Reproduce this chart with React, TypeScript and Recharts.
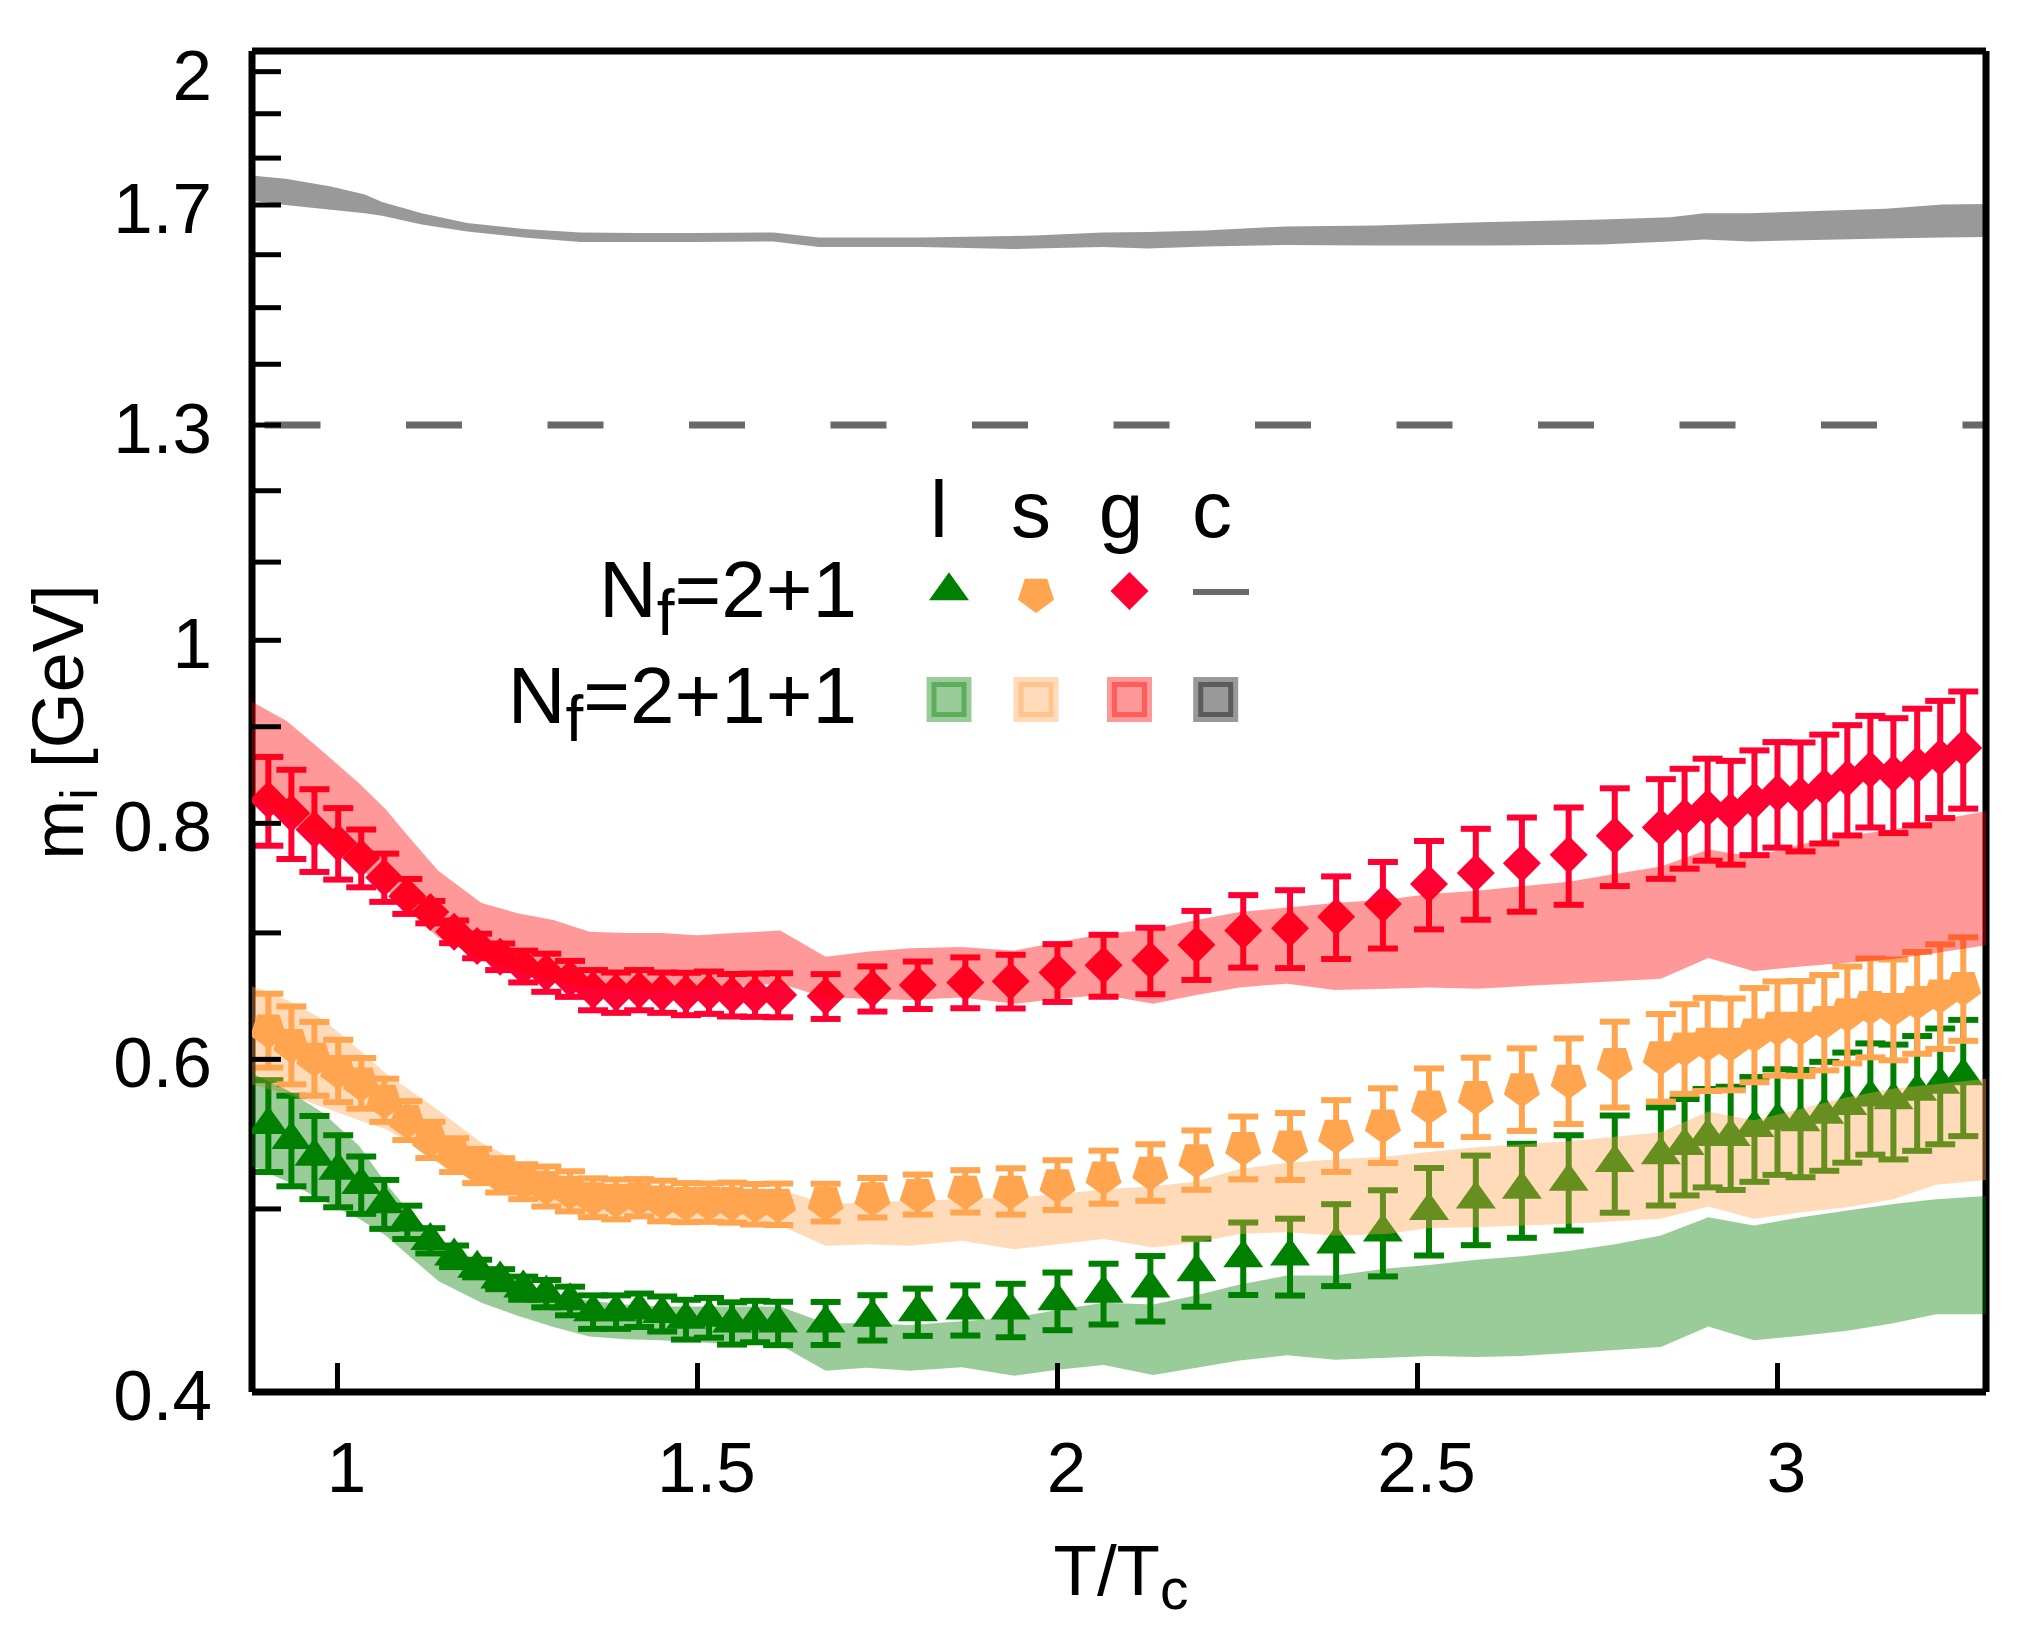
import React from 'react';
import { ComposedChart, Scatter, Area, XAxis, YAxis, ErrorBar, ReferenceLine } from 'recharts';

const W = 2027;
const H = 1635;
const FONT = "'Liberation Sans', Arial, Helvetica, sans-serif";

const GREEN = '#008000';
const ORANGE = '#ffa54f';
const RED = '#ff0033';
const RED_BAND = '#ff0000';
const GRAY_LINE = '#696969';

// ---- N_f = 2+1 lattice points ----
const T_POINTS = [
  0.904, 0.936, 0.968, 1.001, 1.033, 1.065, 1.097, 1.129, 1.162, 1.194, 1.226, 1.258,
  1.290, 1.323, 1.355, 1.387, 1.419, 1.451, 1.484, 1.516, 1.548, 1.580, 1.612,
  1.678, 1.743, 1.806, 1.872, 1.935, 2.000, 2.064, 2.129, 2.193, 2.258, 2.323, 2.387,
  2.452, 2.516, 2.581, 2.645, 2.710, 2.774,
  2.838, 2.871, 2.903, 2.935, 2.968, 3.000, 3.032, 3.065, 3.097, 3.129, 3.161, 3.194, 3.226, 3.258,
];

const L_VALUES = [
  0.554, 0.544, 0.533, 0.524, 0.515, 0.503, 0.492, 0.481, 0.472, 0.465, 0.459, 0.454,
  0.451, 0.447, 0.441, 0.441, 0.442, 0.440, 0.437, 0.438, 0.435, 0.436, 0.435,
  0.435, 0.438, 0.441, 0.442, 0.442, 0.447, 0.451, 0.454, 0.463, 0.471, 0.472, 0.479,
  0.486, 0.499, 0.506, 0.512, 0.517, 0.529,
  0.534, 0.540, 0.546, 0.546, 0.552, 0.557, 0.556, 0.561, 0.567, 0.573, 0.571, 0.577, 0.582, 0.588,
];
const L_ERRORS = [
  0.031, 0.030, 0.027, 0.023, 0.018, 0.015, 0.010, 0.0074, 0.0062, 0.005, 0.0056, 0.0064,
  0.0075, 0.0078, 0.009, 0.009, 0.009, 0.0094, 0.0106, 0.0106, 0.0112, 0.011, 0.0115,
  0.0114, 0.0121, 0.0127, 0.0135, 0.0144, 0.0157, 0.0167, 0.0181, 0.0192, 0.0208, 0.0221, 0.0239,
  0.0255, 0.0266, 0.0276, 0.0293, 0.030, 0.0313,
  0.0319, 0.0317, 0.0327, 0.0343, 0.0352, 0.0358, 0.0363, 0.0372, 0.038, 0.0388, 0.0399, 0.0403, 0.041, 0.0416,
];

const S_VALUES = [
  0.622, 0.611, 0.601, 0.592, 0.583, 0.571, 0.557, 0.544, 0.534, 0.527, 0.521, 0.517,
  0.514, 0.511, 0.507, 0.506, 0.507, 0.505, 0.504, 0.504, 0.504, 0.503, 0.503,
  0.504, 0.507, 0.509, 0.511, 0.511, 0.515, 0.520, 0.523, 0.531, 0.539, 0.540, 0.547,
  0.554, 0.567, 0.5735, 0.579, 0.585, 0.597,
  0.602, 0.6085, 0.612, 0.612, 0.619, 0.624, 0.624, 0.6285, 0.6345, 0.640, 0.6385, 0.644, 0.649, 0.655,
];
const S_ERRORS = [
  0.028, 0.029, 0.027, 0.0225, 0.018, 0.015, 0.0132, 0.012, 0.011, 0.011, 0.0109, 0.011,
  0.0125, 0.0125, 0.012, 0.0123, 0.0115, 0.0125, 0.012, 0.0118, 0.0123, 0.0124, 0.0127,
  0.0116, 0.0122, 0.0124, 0.0132, 0.0144, 0.0156, 0.0168, 0.018, 0.0192, 0.0206, 0.022, 0.0239,
  0.0252, 0.0264, 0.0277, 0.0291, 0.0305, 0.0312,
  0.0321, 0.0332, 0.0347, 0.0342, 0.0355, 0.0358, 0.0361, 0.0365, 0.0374, 0.0385, 0.0392, 0.0399, 0.0413, 0.0413,
];

const G_VALUES = [
  0.823, 0.810, 0.794, 0.781, 0.767, 0.749, 0.732, 0.718, 0.701, 0.689, 0.680, 0.672,
  0.667, 0.662, 0.653, 0.651, 0.653, 0.651, 0.650, 0.651, 0.649, 0.649, 0.649,
  0.648, 0.654, 0.657, 0.659, 0.660, 0.667, 0.673, 0.677, 0.690, 0.702, 0.704, 0.714,
  0.725, 0.743, 0.753, 0.762, 0.770, 0.788,
  0.796, 0.806, 0.815, 0.812, 0.822, 0.830, 0.828, 0.836, 0.845, 0.854, 0.850, 0.859, 0.867, 0.877,
];
const G_ERRORS = [
  0.0445, 0.044, 0.040, 0.034, 0.027, 0.022, 0.0156, 0.0098, 0.0097, 0.0103, 0.011, 0.013,
  0.0155, 0.0145, 0.016, 0.016, 0.016, 0.016, 0.0168, 0.0168, 0.0168, 0.0171, 0.0174,
  0.0177, 0.018, 0.019, 0.0204, 0.0216, 0.0235, 0.0254, 0.0274, 0.029, 0.031, 0.0334, 0.0359,
  0.0382, 0.040, 0.0417, 0.0437, 0.0456, 0.0469,
  0.0483, 0.049, 0.0506, 0.0513, 0.0524, 0.0533, 0.0549, 0.0554, 0.0567, 0.058, 0.0594, 0.061, 0.0618, 0.0625,
];

// ---- N_f = 2+1+1 bands ----
const BAND_T = [
  0.881, 0.93, 0.98, 1.03, 1.067, 1.10, 1.14, 1.20, 1.25, 1.30, 1.35, 1.40, 1.45, 1.50, 1.55,
  1.615, 1.678, 1.735, 1.795, 1.867, 1.94, 2.0, 2.064, 2.133, 2.193, 2.253, 2.319, 2.385,
  2.458, 2.516, 2.582, 2.645, 2.71, 2.774, 2.838, 2.904, 2.967, 3.033, 3.097, 3.161, 3.22, 3.29,
];
const L_BAND_HI = [
  0.590, 0.578, 0.562, 0.540, 0.516, 0.498, 0.482, 0.466, 0.457, 0.451, 0.447, 0.445, 0.444, 0.444, 0.444,
  0.444, 0.435, 0.435, 0.434, 0.436, 0.438, 0.442, 0.446, 0.445, 0.450, 0.456, 0.461, 0.461,
  0.465, 0.467, 0.470, 0.472, 0.475, 0.479, 0.484, 0.495, 0.490, 0.495, 0.499, 0.503, 0.506, 0.508,
];
const L_BAND_LO = [
  0.527, 0.517, 0.505, 0.494, 0.484, 0.472, 0.458, 0.446, 0.439, 0.433, 0.428, 0.4266, 0.426, 0.425, 0.424,
  0.4236, 0.4105, 0.412, 0.4105, 0.4123, 0.408, 0.411, 0.4134, 0.4084, 0.412, 0.4156, 0.4183, 0.416,
  0.417, 0.418, 0.4174, 0.418, 0.4195, 0.421, 0.4225, 0.4332, 0.426, 0.4284, 0.431, 0.435, 0.4398, 0.4398,
];
const S_BAND_HI = [
  0.656, 0.645, 0.630, 0.607, 0.590, 0.578, 0.564, 0.542, 0.530, 0.522, 0.517, 0.514, 0.513, 0.512, 0.512,
  0.512, 0.503, 0.504, 0.505, 0.506, 0.507, 0.509, 0.512, 0.514, 0.517, 0.525, 0.529, 0.531,
  0.533, 0.536, 0.539, 0.541, 0.543, 0.546, 0.549, 0.563, 0.557, 0.565, 0.573, 0.579, 0.582, 0.586,
];
const S_BAND_LO = [
  0.582, 0.575, 0.566, 0.557, 0.551, 0.542, 0.529, 0.516, 0.508, 0.501, 0.494, 0.4937, 0.494, 0.492, 0.4917,
  0.490, 0.478, 0.479, 0.478, 0.481, 0.476, 0.479, 0.482, 0.477, 0.480, 0.485, 0.486, 0.484,
  0.485, 0.4885, 0.489, 0.490, 0.491, 0.4925, 0.494, 0.5015, 0.494, 0.498, 0.501, 0.506, 0.515, 0.518,
];
const G_BAND_HI = [
  0.928, 0.906, 0.873, 0.840, 0.814, 0.786, 0.755, 0.726, 0.717, 0.711, 0.701, 0.700, 0.700, 0.698, 0.700,
  0.702, 0.680, 0.684, 0.687, 0.688, 0.685, 0.692, 0.699, 0.703, 0.711, 0.718, 0.722, 0.726,
  0.729, 0.734, 0.737, 0.741, 0.745, 0.752, 0.759, 0.775, 0.768, 0.780, 0.788, 0.794, 0.803, 0.812,
];
const G_BAND_LO = [
  0.825, 0.805, 0.782, 0.758, 0.738, 0.718, 0.696, 0.678, 0.668, 0.660, 0.655, 0.653, 0.653, 0.654, 0.656,
  0.658, 0.647, 0.646, 0.645, 0.647, 0.642, 0.646, 0.649, 0.642, 0.649, 0.655, 0.658, 0.653,
  0.654, 0.655, 0.654, 0.656, 0.658, 0.660, 0.662, 0.679, 0.668, 0.672, 0.675, 0.678, 0.683, 0.6895,
];

const C_T = [
  0.881, 0.928, 0.991, 1.038, 1.062, 1.117, 1.18, 1.259, 1.3375, 1.416, 1.495, 1.6056, 1.6686,
  1.810, 1.937, 1.968, 2.063, 2.126, 2.205, 2.315, 2.441, 2.599, 2.756, 2.851, 2.898, 2.961,
  3.15, 3.229, 3.29,
];
const C_BAND_HI = [
  1.762, 1.755, 1.739, 1.722, 1.706, 1.683, 1.663, 1.651, 1.644, 1.643, 1.643, 1.644, 1.634,
  1.634, 1.637, 1.638, 1.644, 1.645, 1.648, 1.656, 1.658, 1.665, 1.670, 1.675, 1.683, 1.683,
  1.692, 1.701, 1.702,
];
const C_BAND_LO = [
  1.709, 1.700, 1.690, 1.683, 1.678, 1.660, 1.646, 1.634, 1.625, 1.625, 1.625, 1.626, 1.615,
  1.615, 1.611, 1.612, 1.615, 1.612, 1.616, 1.619, 1.618, 1.618, 1.620, 1.626, 1.630, 1.626,
  1.632, 1.634, 1.635,
];

const CHARM_LINE = 1.3;

const X_DOMAIN = [0.8813, 3.2896];
const Y_DOMAIN = [0.4, 2.051];
const X_TICKS = [1, 1.5, 2, 2.5, 3];
const Y_TICKS = [0.4, 0.5, 0.6, 0.7, 0.8, 0.9, 1, 1.1, 1.2, 1.3, 1.4, 1.5, 1.6, 1.7, 1.8, 1.9, 2];
const Y_LABELED = [0.4, 0.6, 0.8, 1, 1.3, 1.7, 2];

const pts = (vals: number[], errs: number[]) =>
  T_POINTS.map((t, i) => ({ t, v: vals[i], e: errs[i] }));
const band = (ts: number[], lo: number[], hi: number[]) =>
  ts.map((t, i) => ({ t, lo: lo[i], hi: hi[i] }));

const lData = pts(L_VALUES, L_ERRORS);
const sData = pts(S_VALUES, S_ERRORS);
const gData = pts(G_VALUES, G_ERRORS);
const lBand = band(BAND_T, L_BAND_LO, L_BAND_HI);
const sBand = band(BAND_T, S_BAND_LO, S_BAND_HI);
const gBand = band(BAND_T, G_BAND_LO, G_BAND_HI);
const cBand = band(C_T, C_BAND_LO, C_BAND_HI);

const trianglePts = (cx: number, cy: number) =>
  `${cx},${cy - 18.7} ${cx + 20},${cy + 9.3} ${cx - 20},${cy + 9.3}`;
const diamondPts = (cx: number, cy: number) =>
  `${cx},${cy - 19} ${cx + 19},${cy} ${cx},${cy + 19} ${cx - 19},${cy}`;
const pentagonPts = (cx: number, cy: number) => {
  const r = 19;
  const angles = [90, 18, -54, -126, 162];
  return angles
    .map((a) => {
      const rad = (a * Math.PI) / 180;
      return `${cx + r * Math.cos(rad)},${cy + r * Math.sin(rad)}`;
    })
    .join(' ');
};

const TriangleShape = (p: any) =>
  p.cx == null ? <g /> : <polygon points={trianglePts(p.cx, p.cy)} fill={GREEN} />;
const PentagonShape = (p: any) =>
  p.cx == null ? <g /> : <polygon points={pentagonPts(p.cx, p.cy)} fill={ORANGE} />;
const DiamondShape = (p: any) =>
  p.cx == null ? <g /> : <polygon points={diamondPts(p.cx, p.cy)} fill={RED} />;

const YTick = (props: any) => {
  const { x, y, payload } = props;
  const v = payload.value;
  const show = Y_LABELED.some((l) => Math.abs(l - v) < 1e-9);
  return (
    <g>
      <line x1={x} x2={x + 29} y1={y} y2={y} stroke="#000" strokeWidth={5} />
      {show && (
        <text x={x - 40} y={y + 28} textAnchor="end" fontSize={71} fontFamily={FONT} fill="#000">
          {String(v)}
        </text>
      )}
    </g>
  );
};

const XTick = (props: any) => {
  const { x, y, payload } = props;
  return (
    <g>
      <line x1={x} x2={x} y1={y} y2={y - 29} stroke="#000" strokeWidth={5} />
      <text x={x + 9} y={y + 100} textAnchor="middle" fontSize={71} fontFamily={FONT} fill="#000">
        {String(payload.value)}
      </text>
    </g>
  );
};

const LegendOverlay = () => {
  const colX = [949, 1036, 1129.5, 1215.7];
  const row1 = 591;
  const row2 = 699.5;
  const bandColors = [GREEN, ORANGE, RED_BAND, '#000000'];
  return (
    <svg
      width={W}
      height={H}
      style={{ position: 'absolute', left: 0, top: 0, pointerEvents: 'none' }}
    >
      {/* axis titles */}
      <text
        x={83}
        y={722}
        transform="rotate(-90, 83, 722)"
        textAnchor="middle"
        fontSize={72}
        fontFamily={FONT}
        fill="#000"
      >
        m<tspan dy={14} fontSize={52}>i</tspan>
        <tspan dy={-14}> [GeV]</tspan>
      </text>
      <text x={1121} y={1595} textAnchor="middle" fontSize={71} fontFamily={FONT} fill="#000">
        T/T<tspan dy={14} fontSize={57}>c</tspan>
      </text>

      {/* legend header */}
      {['l', 's', 'g', 'c'].map((s, i) => (
        <text
          key={s}
          x={[939, 1031, 1121, 1212][i]}
          y={537}
          textAnchor="middle"
          fontSize={80}
          fontFamily={FONT}
          fill="#000"
        >
          {s}
        </text>
      ))}
      <text x={857} y={617} textAnchor="end" fontSize={80} fontFamily={FONT} fill="#000">
        N<tspan dy={18} fontSize={64}>f</tspan>
        <tspan dy={-18}>=2+1</tspan>
      </text>
      <text x={857} y={723} textAnchor="end" fontSize={80} fontFamily={FONT} fill="#000">
        N<tspan dy={18} fontSize={64}>f</tspan>
        <tspan dy={-18}>=2+1+1</tspan>
      </text>

      <polygon points={trianglePts(colX[0], row1)} fill={GREEN} />
      <polygon points={pentagonPts(colX[1], row1 + 3)} fill={ORANGE} />
      <polygon points={diamondPts(colX[2], row1)} fill={RED} />
      <line x1={1193} x2={1249} y1={row1 + 1} y2={row1 + 1} stroke={GRAY_LINE} strokeWidth={6} />

      {bandColors.map((c, i) => (
        <rect
          key={i}
          x={colX[i] - 17.5}
          y={row2 - 17.5}
          width={35}
          height={35}
          fill={c}
          fillOpacity={0.4}
          stroke={c}
          strokeOpacity={0.4}
          strokeWidth={10}
        />
      ))}
    </svg>
  );
};

export default function App() {
  return (
    <div style={{ position: 'absolute', left: 0, top: 0, width: W, height: H, background: '#fff' }}>
      <ComposedChart width={W} height={H} margin={{ top: 0, right: 0, bottom: 0, left: 0 }}>
        <XAxis
          xAxisId={0}
          dataKey="t"
          type="number"
          domain={X_DOMAIN}
          allowDataOverflow
          ticks={X_TICKS}
          tick={<XTick />}
          tickLine={false}
          tickSize={0}
          tickMargin={0}
          height={243}
          axisLine={{ stroke: '#000', strokeWidth: 7 }}
          interval={0}
        />
        <XAxis
          xAxisId="top"
          orientation="top"
          dataKey="t"
          type="number"
          domain={X_DOMAIN}
          allowDataOverflow
          tick={false}
          tickLine={false}
          height={51}
          axisLine={{ stroke: '#000', strokeWidth: 7 }}
        />
        <YAxis
          yAxisId={0}
          dataKey="v"
          type="number"
          scale="log"
          domain={Y_DOMAIN}
          allowDataOverflow
          ticks={Y_TICKS}
          tick={<YTick />}
          tickLine={false}
          tickSize={0}
          tickMargin={0}
          width={252}
          axisLine={{ stroke: '#000', strokeWidth: 7 }}
          interval={0}
        />
        <YAxis
          yAxisId="right"
          orientation="right"
          dataKey="v"
          type="number"
          scale="log"
          domain={Y_DOMAIN}
          allowDataOverflow
          tick={false}
          tickLine={false}
          width={41}
          axisLine={{ stroke: '#000', strokeWidth: 7 }}
        />

        <ReferenceLine
          y={CHARM_LINE}
          stroke={GRAY_LINE}
          strokeWidth={7}
          strokeDasharray="56 85.5"
          strokeDashoffset={129}
        />

        <Scatter data={lData} dataKey="v" fill={GREEN} shape={TriangleShape} isAnimationActive={false}>
          <ErrorBar dataKey="e" direction="y" width={15} stroke={GREEN} strokeWidth={6} isAnimationActive={false} />
        </Scatter>
        <Scatter data={sData} dataKey="v" fill={ORANGE} shape={PentagonShape} isAnimationActive={false}>
          <ErrorBar dataKey="e" direction="y" width={15} stroke={ORANGE} strokeWidth={6} isAnimationActive={false} />
        </Scatter>
        <Scatter data={gData} dataKey="v" fill={RED} shape={DiamondShape} isAnimationActive={false}>
          <ErrorBar dataKey="e" direction="y" width={15} stroke={RED} strokeWidth={6} isAnimationActive={false} />
        </Scatter>

        <Area
          data={cBand}
          dataKey={(d: any) => [d.lo, d.hi]}
          type="linear"
          stroke="none"
          fill="#000000"
          fillOpacity={0.4}
          isAnimationActive={false}
          dot={false}
          activeDot={false}
          zIndex={700}
        />
        <Area
          data={gBand}
          dataKey={(d: any) => [d.lo, d.hi]}
          type="linear"
          stroke="none"
          fill={RED_BAND}
          fillOpacity={0.4}
          isAnimationActive={false}
          dot={false}
          activeDot={false}
          zIndex={700}
        />
        <Area
          data={sBand}
          dataKey={(d: any) => [d.lo, d.hi]}
          type="linear"
          stroke="none"
          fill={ORANGE}
          fillOpacity={0.4}
          isAnimationActive={false}
          dot={false}
          activeDot={false}
          zIndex={700}
        />
        <Area
          data={lBand}
          dataKey={(d: any) => [d.lo, d.hi]}
          type="linear"
          stroke="none"
          fill={GREEN}
          fillOpacity={0.4}
          isAnimationActive={false}
          dot={false}
          activeDot={false}
          zIndex={700}
        />
      </ComposedChart>
      <LegendOverlay />
    </div>
  );
}
